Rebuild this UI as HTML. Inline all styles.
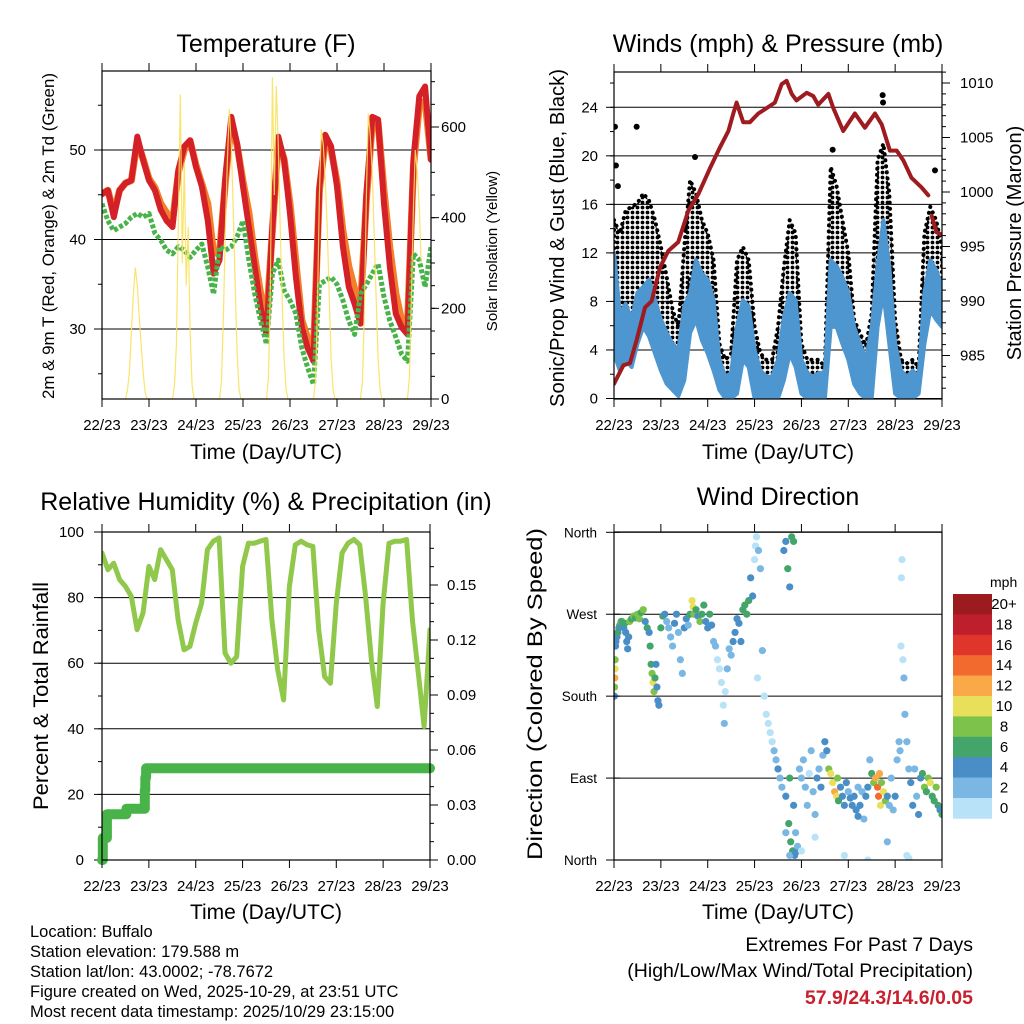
<!DOCTYPE html>
<html><head><meta charset="utf-8"><title>Buffalo station meteogram</title>
<style>
html,body{margin:0;padding:0;background:#fff;}
svg{display:block;font-family:"Liberation Sans",sans-serif;}
</style></head>
<body>
<svg id="chart" width="1024" height="1024" viewBox="0 0 1024 1024" xmlns="http://www.w3.org/2000/svg">
<defs>
<pattern id="gustDots" width="5" height="5" patternUnits="userSpaceOnUse">
<circle cx="2.5" cy="2.5" r="1.9" fill="#000"/>
</pattern>
</defs>
<rect x="0" y="0" width="1024" height="1024" fill="#fff"/>
<g id="texts">
<text x="266" y="52" font-size="25" text-anchor="middle">Temperature (F)</text>
<text x="778" y="52" font-size="25" text-anchor="middle">Winds (mph) &amp; Pressure (mb)</text>
<text x="266" y="510" font-size="25" text-anchor="middle">Relative Humidity (%) &amp; Precipitation (in)</text>
<text x="778" y="505" font-size="25" text-anchor="middle">Wind Direction</text>
<text x="266" y="459" font-size="21" text-anchor="middle">Time (Day/UTC)</text>
<text x="778" y="459" font-size="21" text-anchor="middle">Time (Day/UTC)</text>
<text x="266" y="919" font-size="21" text-anchor="middle">Time (Day/UTC)</text>
<text x="778" y="919" font-size="21" text-anchor="middle">Time (Day/UTC)</text>
<text transform="translate(54,236) rotate(-90)" font-size="16.5" text-anchor="middle" textLength="326" lengthAdjust="spacingAndGlyphs">2m &amp; 9m T (Red, Orange) &amp; 2m Td (Green)</text>
<text transform="translate(497,251) rotate(-90)" font-size="15" text-anchor="middle">Solar Insolation (Yellow)</text>
<text transform="translate(564,238) rotate(-90)" font-size="20" text-anchor="middle" textLength="338" lengthAdjust="spacingAndGlyphs">Sonic/Prop Wind &amp; Gust (Blue, Black)</text>
<text transform="translate(1021,243) rotate(-90)" font-size="20" text-anchor="middle">Station Pressure (Maroon)</text>
<text transform="translate(48,696) rotate(-90)" font-size="21" text-anchor="middle" textLength="228" lengthAdjust="spacingAndGlyphs">Percent &amp; Total Rainfall</text>
<text transform="translate(542,694) rotate(-90)" font-size="21" text-anchor="middle" textLength="332" lengthAdjust="spacingAndGlyphs">Direction (Colored By Speed)</text>
<g font-size="16.5">
<text x="30" y="937">Location: Buffalo</text>
<text x="30" y="957">Station elevation: 179.588 m</text>
<text x="30" y="977">Station lat/lon: 43.0002; -78.7672</text>
<text x="30" y="997">Figure created on Wed, 2025-10-29, at 23:51 UTC</text>
<text x="30" y="1017">Most recent data timestamp: 2025/10/29 23:15:00</text>
</g>
<g font-size="19.5" text-anchor="end">
<text x="973" y="951">Extremes For Past 7 Days</text>
<text x="973" y="977">(High/Low/Max Wind/Total Precipitation)</text>
<text x="973" y="1004" fill="#c8202f" font-weight="bold">57.9/24.3/14.6/0.05</text>
</g>
</g>
</svg>
<script>
// ---------- data ----------
const hours3 = [0,3,6,9,12,15,18,21,24,27,30,33,36,39,42,45,48,51,54,57,60,63,66,69,72,75,78,81,84,87,90,93,96,99,102,105,108,111,114,117,120,123,126,129,132,135,138,141,144,147,150,153,156,159,162,165,168];
const dayLabels = ["22/23","23/23","24/23","25/23","26/23","27/23","28/23","29/23"];
const temp2m = [45.1,45.5,42.5,45.5,46.3,46.6,51.5,48.9,46.6,45.5,43.3,42.1,41.4,47.8,50.4,51.1,48.1,45.9,42.1,36.2,37.7,47.0,53.7,50.7,45.9,41.4,36.9,32.4,29.4,41.4,51.5,48.9,42.9,35.8,30.2,27.9,26.4,45.9,51.7,50.4,45.9,39.2,34.7,32.8,30.6,45.1,53.7,53.4,44.0,36.9,31.7,30.2,29.4,48.9,56.0,57.1,48.9];
const temp9m = [45.1,45.5,43.0,45.5,46.3,46.6,51.0,49.0,46.8,45.8,44.0,43.0,42.0,47.5,50.0,51.0,48.3,46.2,44.0,38.5,38.5,46.5,53.0,50.5,46.5,43.0,38.0,34.0,31.0,41.0,51.0,49.0,44.0,37.5,31.0,29.0,27.5,45.5,51.0,50.0,46.5,41.0,37.0,34.5,32.5,44.5,53.0,53.0,45.5,39.0,34.0,31.0,30.5,48.0,55.0,55.5,49.0];
const dewpoint = [44.0,42.1,41.0,41.4,41.8,42.5,42.9,42.5,42.9,40.7,39.9,38.8,38.4,39.2,38.8,38.0,38.8,39.5,36.9,33.9,39.2,38.8,39.2,40.3,42.1,37.7,33.9,30.9,28.3,36.2,37.7,34.3,33.2,31.7,27.9,25.7,23.8,35.0,35.4,35.8,35.0,33.2,30.9,29.4,33.9,35.0,36.2,37.3,33.6,30.9,29.1,27.2,26.4,38.4,37.7,34.7,39.2];
const solarDay1 = [0,20,60,150,230,290,250,180,120,60,15,0];
const solarDay2 = [0,30,120,400,672,300,520,250,380,150,30,0];
const solarDay3 = [0,40,180,380,520,640,560,420,250,100,20,0];
const solarDay4 = [0,50,250,710,450,690,560,380,220,90,20,0];
const solarDay5 = [0,40,200,450,595,560,480,380,230,90,20,0];
const solarDay6 = [0,40,200,450,630,580,500,360,220,90,20,0];
const solarDay7 = [0,50,230,420,549,500,420,300];

const windHi = [12,7,7.8,6.5,8.7,9.2,9.8,8.1,6.5,5.4,4.5,4,7.6,8.7,11.4,10.3,9.8,8.1,3.2,1.8,2.1,5.9,8.1,7.6,4,2.3,1.8,1.8,3.2,6.7,8.7,8.1,3.2,2.1,1.8,2.1,2.1,11.4,10.9,10,8.7,5.9,4.5,3.2,5.9,10.9,14.7,10.9,4.5,2.3,1.8,2.3,1.8,8.7,11.4,10.6,9.2];
const windLo = [3.7,2.3,3.2,2.6,4.5,5.9,5.1,3.7,2.3,1.2,0.7,0.2,1.5,5.4,6.5,4.8,3.7,2.3,0.7,0,0,0.4,3.2,2.6,0,0,0,0,0,1.5,3.7,2.6,0.4,0,0,0,0,5.9,5.9,4.5,3.2,1.2,0.4,0,0,5.9,8.7,4.5,0.4,0,0,0,0.4,4.5,7.3,6.5,5.9];
const gustHi = [14.7,13.6,15.5,15.8,16.1,16.9,16.3,14.7,12.5,10,7.3,5.9,12.5,18,16.9,14.7,13.6,11.4,4.5,3.2,3.7,11.4,12.5,11.4,5.9,3.7,3.2,3.2,5.9,10.8,14.7,13.6,4.5,3.2,3.2,3.2,2.6,19.1,17.5,14.7,12,6.5,5.4,4.3,7,19.7,21,16.9,6.5,3.2,2.9,3.2,2.6,13.6,15.8,14.7,12.5];
const gustLo = [8.7,5.4,6.5,5.9,8.1,8.7,8.1,6.5,4.5,3.7,3.2,2.1,4.5,10,11.4,8.7,7.3,4.5,1.8,1,1.2,3.2,6.5,5.1,1.8,1.5,1,1.2,1.8,3.7,7.3,5.9,1.8,1.5,1.8,1.8,1.5,10.9,10.3,8.1,5.9,2.6,2.1,1.5,3.2,11.4,13.6,10,3.2,1.2,1.5,1.8,1.5,7,10,9.2,8.1];
const gustOutlierHours = [0.5,11.6,41.5,112,137.6,137.8,164.4,1,2,36,39];
const gustOutlierMph = [22.4,22.4,19.9,20.5,25,24.4,18.8,19.2,17.5,14,16];

const presHours = [0,4.8,8.2,11.6,15.9,19.3,23.6,27.8,32.9,38.1,43.2,49.2,54.3,58.6,61.1,62.8,66.2,69.6,73.9,78.2,82.4,85.9,88.4,91.0,93.5,98.7,102.1,104.6,109.8,112.3,117.4,123.4,128.5,133.7,137.1,141.3,144.8,148.2,152.4,157.6,161.0,162.0,162.7,165.2,167.8];
const presMb = [982.4,984.1,984.3,986.4,989.4,990.0,993.1,994.6,995.4,998.3,999.8,1002.2,1004.1,1005.6,1007.2,1008.2,1006.4,1006.4,1007.2,1007.7,1008.2,1009.9,1010.2,1009.0,1008.4,1009.1,1008.8,1008.0,1009.0,1007.7,1005.6,1007.2,1005.9,1007.2,1006.2,1003.8,1003.8,1002.9,1001.3,1000.4,999.7,null,997.8,996.3,996.1];

const rhValues = [93.6,88.5,90.5,85.5,83.4,80.4,70.2,75.3,89.5,85.5,94.6,91.6,88.5,73.2,64.1,65.1,72.2,78.3,94.6,97.2,98.2,63.1,60.0,62.0,89.5,96.6,96.6,97.2,97.7,73.2,58.0,48.8,83.4,96.1,97.2,96.1,95.6,70.2,55.9,53.9,78.3,93.6,96.6,97.7,96.1,80.4,61.0,46.8,78.3,96.6,97.2,97.2,97.7,73.2,57.0,40.7,70.2];
const precipHours = [0,0.4,2.5,12.5,21.6,21.9,22.2,22.6,168];
const precipIn = [0,0.012,0.025,0.028,0.028,0.038,0.045,0.05,0.05];

const dirHours = [0.2,0.3,0.4,0.5,0.6,0.8,1,1.5,2,2.5,3,3.5,4,4.5,5,5.5,6,6.5,7,7.5,8,9,10,11,12,13,14,15,16,17,18,18.5,19,19.5,20,20.5,21,21.5,22,22.5,23,24,25,26,27,28,29,30,31,32,33,34,35,36,37,38,39,40,40.5,41,42,43,44,45,46,47,48,49,50,51,52,53,54,55,56,56.5,57,58,59,60,61,62,63,64,65,66,67,68,69,70,71,72,72.5,73,73.5,74,75,76,77,78,79,80,81,82,83,84,85,86,87,88,89,90,91,92,89.5,90.5,91.5,92.5,88,90,92,93,94,95,96,97,98,99,100,101,102,103,104,105,106,107,108,109,110,111,112,113,114,114.5,115,116,117,118,119,120,121,122,123,124,125,126,127,128,129,130,131,132,133,134,135,135.5,136,136.5,137,138,139,140,141,142,143,144,145,146,146.5,147,147.2,147.5,148,148.5,149,150,151,152,153,154,155,156,157,158,159,160,161,162,163,164,165,166,167,168,88,90,93,96,103,118,130,150,151,140,125];
const dirDeg = [180,190,200,210,220,235,240,245,250,255,258,262,262,258,255,260,250,240,232,245,262,265,268,266,270,265,272,275,262,255,250,235,215,205,195,185,200,215,190,175,170,255,268,270,262,255,245,235,260,270,250,220,205,255,265,258,270,285,278,270,275,268,262,270,280,262,255,270,258,240,235,220,210,195,170,150,185,210,232,225,240,250,265,260,240,275,280,270,285,310,290,330,345,355,200,340,320,230,180,160,150,140,130,120,110,100,90,80,340,350,320,300,355,350,40,20,10,5,70,90,60,30,15,100,90,110,80,60,95,120,75,50,90,100,80,115,130,120,100,95,85,75,70,90,65,80,70,60,85,75,68,60,70,55,80,60,75,45,70,80,110,95,85,90,80,70,95,60,85,75,65,70,60,90,55,70,110,130,120,235,310,330,220,200,160,130,100,85,60,100,70,50,90,95,80,75,90,85,70,65,80,60,55,50,30,5,8,10,25,5,0,5,2,20,48];
const dirSpeed = [4,8,12,10,8,4,4,4,6,4,6,8,6,4,4,6,4,4,4,4,8,6,8,6,8,8,6,8,4,6,4,6,6,8,10,8,6,4,4,4,4,6,6,4,2,2,2,2,4,4,2,2,2,4,4,2,6,10,10,8,6,4,8,6,6,4,4,6,4,2,2,0,0,0,0,2,0,2,2,2,4,4,4,4,4,6,6,6,6,4,4,0,0,0,0,2,2,2,0,0,0,0,0,2,2,4,2,2,4,4,6,4,6,6,6,6,6,4,4,6,4,2,2,2,2,2,2,2,0,2,2,2,4,2,4,2,4,4,8,10,10,12,10,8,6,4,4,4,4,2,4,4,4,4,2,4,2,2,4,4,2,6,8,12,14,14,12,10,8,10,8,4,2,2,2,4,2,2,2,0,0,0,0,2,2,2,2,4,4,2,2,4,4,6,8,6,8,10,6,6,8,6,4,6,2,2,4,0,0,0,0,0,0,2,4];

const speedBins = [0,2,4,6,8,10,12,14,16,18,20];
const speedColors = ["#b8e2f8","#7ab8e3","#4a8ec7","#44a56b","#7dc24b","#e8e05a","#f9a948","#f26a2d","#e0352b","#bf1e2d","#9b1b1f"];
const speedLabels = ["0","2","4","6","8","10","12","14","16","18","20+"];

// ---------- helpers ----------
const NS = "http://www.w3.org/2000/svg";
const svg = document.getElementById('chart');
function mk(tag, attrs, parent){ const e=document.createElementNS(NS,tag); for(const k in attrs) e.setAttribute(k,attrs[k]); (parent||svg).appendChild(e); return e; }
function lin(d0,d1,r0,r1){ return v => r0 + (v-d0)/(d1-d0)*(r1-r0); }

function panel(name, x0,x1,y0,y1){
  const g = mk('g',{});
  
  
  const clipId = name+'-clip';
  const cp = mk('clipPath',{id:clipId},g); mk('rect',{x:x0,y:y0,width:x1-x0,height:y1-y0},cp);
  const data = mk('g',{'clip-path':'url(#'+clipId+')'},g);
  
  
  const xs = lin(0,168,x0,x1);
  return {g,data,xs,x0,x1,y0,y1};
}
function xAxis(p){
  for(let d=0; d<dayLabels.length; d++){
    const x = p.xs(d*24);
    mk('line',{x1:x,x2:x,y1:p.y1,y2:p.y1+8,stroke:'#000','stroke-width':1},p.g);
    mk('line',{x1:x,x2:x,y1:p.y0,y2:p.y0-8,stroke:'#000','stroke-width':1},p.g);
    const t = mk('text',{x:x,y:p.y1+31,'font-size':15,'text-anchor':'middle'},p.g);
    
    
    t.textContent = dayLabels[d];
  }
}
function frame(p){
  const r = mk('rect',{x:p.x0,y:p.y0,width:p.x1-p.x0,height:p.y1-p.y0,fill:'none',stroke:'#000','stroke-width':1.2},p.g);
  
  
}
function yAxis(p, side, scale, majors, labels, minors, grid, lx, fs){
  const xe = side==='left'? p.x0 : p.x1;
  const dir = side==='left'? -1 : 1;
  minors.forEach(v=>{ const y=scale(v); mk('line',{x1:xe,x2:xe+dir*4,y1:y,y2:y,stroke:'#000','stroke-width':1},p.g); });
  majors.forEach((v,i)=>{
    const y=scale(v);
    mk('line',{x1:xe,x2:xe+dir*8,y1:y,y2:y,stroke:'#000','stroke-width':1},p.g);
    if(grid) mk('line',{x1:p.x0,x2:p.x1,y1:y,y2:y,stroke:'#000','stroke-width':1},p.data);
    const t = mk('text',{x:lx,y:y+5,'font-size':fs||15,'text-anchor':side==='left'?'end':'start'},p.g);
    
    
    t.textContent = labels[i];
  });
}
function range(a,b,s){ const r=[]; for(let v=a; v<=b+1e-9; v+=s) r.push(+v.toFixed(4)); return r; }
function pathFrom(xsArr, ysArr, xs, ys){
  let d='', pen=false;
  for(let i=0;i<xsArr.length;i++){
    if(ysArr[i]===null){ pen=false; continue; }
    d += (pen?'L':'M') + xs(xsArr[i]).toFixed(1)+','+ys(ysArr[i]).toFixed(1);
    pen=true;
  }
  return d;
}
function bandPath(xsArr, lo, hi, xs, ys){
  let d='M';
  for(let i=0;i<xsArr.length;i++) d += (i?'L':'')+xs(xsArr[i]).toFixed(1)+','+ys(hi[i]).toFixed(1);
  for(let i=xsArr.length-1;i>=0;i--) d += 'L'+xs(xsArr[i]).toFixed(1)+','+ys(lo[i]).toFixed(1);
  return d+'Z';
}
function colorFor(s){ let c=speedColors[0]; for(let i=0;i<speedBins.length;i++) if(s>=speedBins[i]) c=speedColors[i]; return c; }

// ---------- Panel 1: Temperature ----------
{
  const p = panel('temperature-panel',102,431,71,399);
  const ty = lin(30,50,329,150);
  const sy = lin(0,600,399,127);
  yAxis(p,'left',ty,[30,40,50],['30','40','50'],[25,35,45,55],true,86);
  yAxis(p,'right',sy,[0,200,400,600],['0','200','400','600'],range(0,700,50),false,441);
  const solar = [solarDay1,solarDay2,solarDay3,solarDay4,solarDay5,solarDay6,solarDay7];
  const sh=[], sv=[];
  solar.forEach((arr,d)=>arr.forEach((v,i)=>{ sh.push(12+24*d+i); sv.push(v); }));
  let e;
  e = mk('path',{d:pathFrom(hours3,temp9m,p.xs,ty),fill:'none',stroke:'#f47f2a','stroke-width':7,'stroke-linejoin':'round','stroke-linecap':'round'},p.data);
   
  e = mk('path',{d:pathFrom(hours3,temp2m,p.xs,ty),fill:'none',stroke:'#d42027','stroke-width':6,'stroke-linejoin':'round','stroke-linecap':'round'},p.data);
   
  e = mk('path',{d:pathFrom(hours3,dewpoint,p.xs,ty),fill:'none',stroke:'#47b348','stroke-width':5,'stroke-dasharray':'4 2','stroke-linejoin':'round'},p.data);
   
  e = mk('path',{d:pathFrom(sh,sv,p.xs,sy),fill:'none',stroke:'#f9e15b','stroke-width':1.2,opacity:0.9},p.data);
   
  frame(p); xAxis(p);
}

// ---------- Panel 2: Winds & Pressure ----------
{
  const p = panel('winds-panel',614,942,72,399);
  const wy = lin(0,24,398.5,107.3);
  const py = lin(985,1010,355.5,83);
  yAxis(p,'left',wy,[0,4,8,12,16,20,24],['0','4','8','12','16','20','24'],range(0,26,2),true,598);
  yAxis(p,'right',py,[985,990,995,1000,1005,1010],['985','990','995','1000','1005','1010'],range(982,1011,1),false,960);
  let e;
  e = mk('path',{d:bandPath(hours3,gustLo,gustHi,p.xs,wy),fill:'url(#gustDots)',stroke:'#000','stroke-width':4,'stroke-linejoin':'round','stroke-dasharray':'0.1 6','stroke-linecap':'round'},p.data);
   
  gustOutlierHours.forEach((h,i)=>{
    const c = mk('circle',{cx:p.xs(h),cy:wy(gustOutlierMph[i]),r:3,fill:'#000'},p.data);
     
  });
  e = mk('path',{d:bandPath(hours3,windLo,windHi,p.xs,wy),fill:'#4d96d0',stroke:'#4d96d0','stroke-width':4,'stroke-linejoin':'round'},p.data);
   
  e = mk('path',{d:pathFrom(presHours,presMb,p.xs,py),fill:'none',stroke:'#9e1b20','stroke-width':4,'stroke-linejoin':'round','stroke-linecap':'round'},p.data);
   
  frame(p); xAxis(p);
}

// ---------- Panel 3: RH & Precip ----------
{
  const p = panel('humidity-panel',102,430,532,860);
  const ry = lin(0,100,860,532);
  const qy = lin(0,0.03,860,805);
  yAxis(p,'left',ry,[0,20,40,60,80,100],['0','20','40','60','80','100'],range(0,100,10),true,84);
  yAxis(p,'right',qy,[0,0.03,0.06,0.09,0.12,0.15],['0.00','0.03','0.06','0.09','0.12','0.15'],range(0,0.17,0.01),false,447);
  let e;
  e = mk('path',{d:pathFrom(hours3,rhValues,p.xs,ry),fill:'none',stroke:'#8fc84a','stroke-width':5,'stroke-linejoin':'round','stroke-linecap':'round'},p.data);
   
  let d='';
  precipHours.forEach((h,i)=>{ const x=p.xs(h), y=qy(precipIn[i]); d += (i? 'H'+x.toFixed(1)+'V'+y.toFixed(1) : 'M'+x.toFixed(1)+','+y.toFixed(1)); });
  const pg = mk('g',{},p.g);
   
  e = mk('path',{d:d,fill:'none',stroke:'#47b348','stroke-width':10,'stroke-linejoin':'round','stroke-linecap':'round'},pg);
   
  frame(p); xAxis(p);
}

// ---------- Panel 4: Wind Direction ----------
{
  const p = panel('wind-direction-panel',614,942,532,860);
  const dy = lin(0,360,860,532.3);
  yAxis(p,'left',dy,[0,90,180,270,360],['North','East','South','West','North'],[],true,597,13.5);
  [0,90,180,270,360].forEach(v=>mk('line',{x1:p.x0,x2:p.x0+6,y1:dy(v),y2:dy(v),stroke:'#000'},p.g));
  dirHours.forEach((h,i)=>{
    const c = mk('circle',{cx:p.xs(h),cy:dy(dirDeg[i]),r:3.6,fill:colorFor(dirSpeed[i])},p.data);
     
  });
  frame(p); xAxis(p);
  // colorbar
  const cb = mk('g',{});
   
  const top=594, bh=20.4;
  const mt = mk('text',{x:990,y:587,'font-size':14},cb); mt.textContent='mph';
  for(let i=0;i<speedColors.length;i++){
    const k = speedColors.length-1-i;
    const r = mk('rect',{x:953,y:top+i*bh,width:39,height:bh+0.3,fill:speedColors[k]},cb);
     
    const t = mk('text',{x:1004,y:top+i*bh+15,'font-size':15,'text-anchor':'middle'},cb);
     
    t.textContent = speedLabels[k];
  }
}
</script>
</body></html>
